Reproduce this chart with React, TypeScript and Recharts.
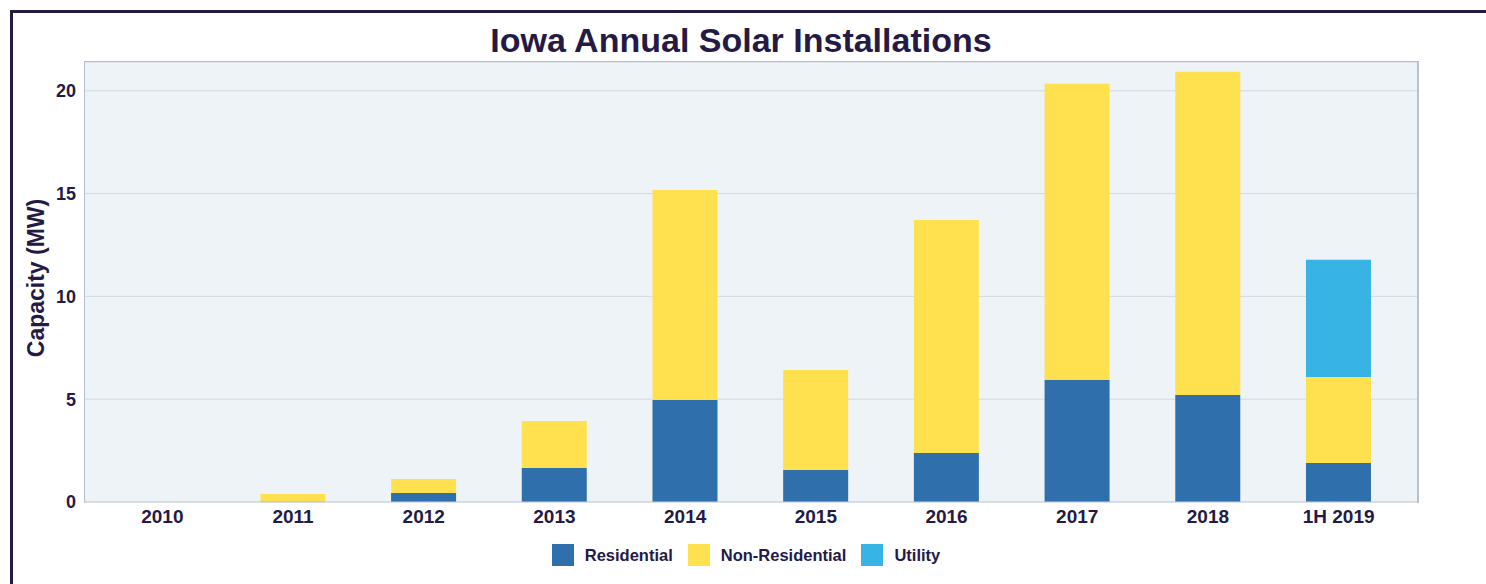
import {
    BarChart,
    Bar,
    XAxis,
    YAxis,
    CartesianGrid,
    Legend,
} from "recharts";

const years = ["2010", "2011", "2012", "2013", "2014", "2015", "2016", "2017", "2018", "1H 2019"];
const residential = [0, 0.03, 0.44, 1.65, 4.96, 1.56, 2.38, 5.94, 5.21, 1.9];
const nonResidential = [0, 0.36, 0.68, 2.29, 10.22, 4.86, 11.34, 14.4, 15.71, 4.18];
const utility = [0, 0, 0, 0, 0, 0, 0, 0, 0, 5.7];
const yTicks = [0, 5, 10, 15, 20];

const data = years.map((year, i) => ({
    year,
    residential: residential[i],
    nonResidential: nonResidential[i],
    utility: utility[i],
}));

const INK = "#251a45";
const FONT = "'Liberation Sans', Arial, sans-serif";

const series = [
    { key: "residential", name: "Residential", color: "#2e6fac" },
    { key: "nonResidential", name: "Non-Residential", color: "#ffe04f" },
    { key: "utility", name: "Utility", color: "#37b3e4" },
];

const LegendContent = () => (
    <div style={{ display: "flex", justifyContent: "center", alignItems: "center", height: 34, fontFamily: FONT, paddingLeft: 75 }}>
        {series.map((s, i) => (
            <div key={s.key} style={{ display: "flex", alignItems: "center", marginLeft: i === 0 ? 0 : 15 }}>
                <span style={{ width: 22, height: 22, background: s.color, display: "inline-block", marginRight: 11 }} />
                <span style={{ color: INK, fontWeight: 700, fontSize: 16.5 }}>{s.name}</span>
            </div>
        ))}
    </div>
);

export default function App() {
    return (
        <div style={{ position: "absolute", left: 0, top: 0, width: 1486, height: 584, overflow: "hidden", background: "#fff" }}>
            <div
                style={{
                    position: "absolute",
                    left: 10,
                    top: 10,
                    width: 1600,
                    height: 700,
                    border: `3px solid ${INK}`,
                }}
            />
            <div
                style={{
                    position: "absolute",
                    top: 21,
                    left: 0,
                    width: 1482,
                    textAlign: "center",
                    fontFamily: FONT,
                    fontWeight: 700,
                    fontSize: 34,
                    color: INK,
                }}
            >
                Iowa Annual Solar Installations
            </div>
            <div style={{ position: "absolute", left: 0, top: 0 }}>
                <BarChart
                    width={1486}
                    height={584}
                    data={data}
                    barCategoryGap="25%"
                    margin={{ top: 62, right: 69, left: 0, bottom: 12 }}
                >
                    <CartesianGrid vertical={false} stroke="#d2d9e0" fill="#eef3f7" />
                    <XAxis
                        dataKey="year"
                        height={36}
                        padding={{ left: 13, right: 13 }}
                        axisLine={{ stroke: "#c9d1d9" }}
                        tickLine={false}
                        tick={{ fill: INK, fontSize: 19, fontWeight: 700, fontFamily: FONT }}
                    />
                    <YAxis
                        width={84}
                        domain={[0, 21.4]}
                        ticks={yTicks}
                        axisLine={false}
                        tickLine={false}
                        tick={{ fill: INK, fontSize: 18, fontWeight: 700, fontFamily: FONT }}
                        label={{
                            value: "Capacity (MW)",
                            angle: -90,
                            position: "insideLeft",
                            offset: 36,
                            dy: -4,
                            style: { fill: INK, fontSize: 23, fontWeight: 700, fontFamily: FONT, textAnchor: "middle" },
                        }}
                    />
                    {series.map((s) => (
                        <Bar
                            key={s.key}
                            dataKey={s.key}
                            name={s.name}
                            stackId="a"
                            fill={s.color}
                            isAnimationActive={false}
                        />
                    ))}
                    <Legend verticalAlign="bottom" content={<LegendContent />} />
                </BarChart>
            </div>
            {/* plot frame */}
            <div
                style={{
                    position: "absolute",
                    left: 84,
                    top: 61,
                    width: 1332,
                    height: 441,
                    borderTop: "1.5px solid #b4bfca",
                    borderLeft: "1px solid #b4bfca",
                    borderRight: "2px solid #b8c2cc",
                    pointerEvents: "none",
                }}
            />
        </div>
    );
}
